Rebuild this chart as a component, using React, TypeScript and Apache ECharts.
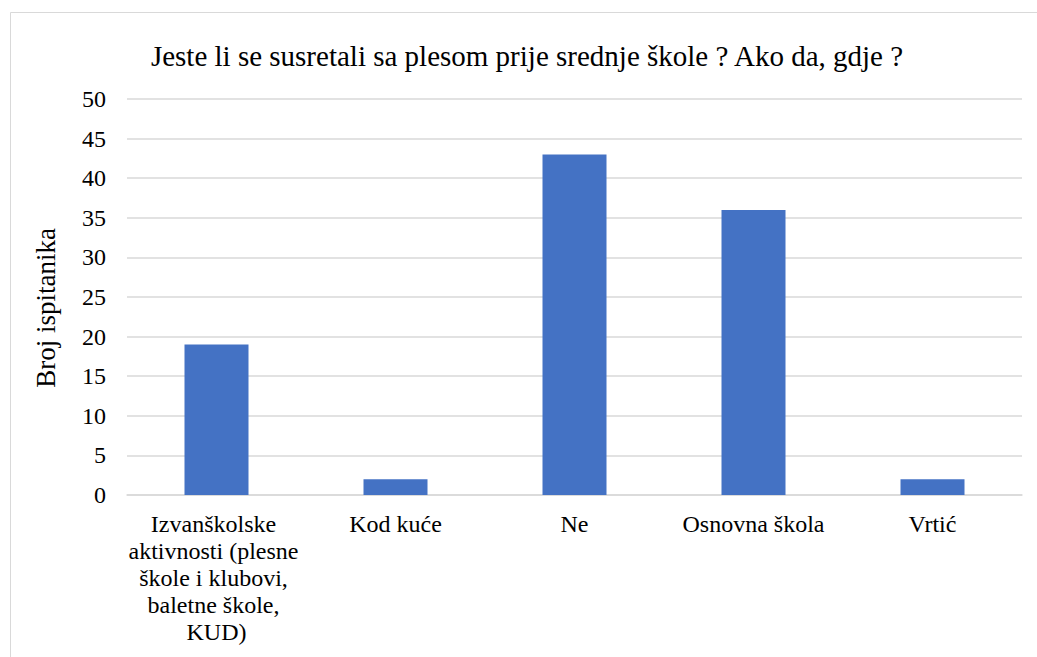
import React, { useEffect, useRef } from "react";
import * as echarts from "echarts";

const titleText = "Jeste li se susretali sa plesom prije srednje škole ? Ako da, gdje ?";
const yAxisName = "Broj ispitanika";
const categories = [
  "Izvanškolske aktivnosti (plesne škole i klubovi, baletne škole, KUD)",
  "Kod kuće",
  "Ne",
  "Osnovna škola",
  "Vrtić",
];
const values = [19, 2, 43, 36, 2];
const yMin = 0;
const yMax = 50;
const yStep = 5;

const FONT = "Liberation Serif";

export default function App() {
  const ref = useRef<HTMLDivElement>(null);
  useEffect(() => {
    if (!ref.current) return;
    const chart = echarts.init(ref.current, undefined, { renderer: "svg" });
    chart.setOption({
      animation: false,
      backgroundColor: "#ffffff",
      textStyle: { fontFamily: FONT },
      title: {
        text: titleText,
        left: 522,
        top: 36,
        textAlign: "center",
        textStyle: { fontFamily: FONT, fontSize: 29, fontWeight: "normal", color: "#000000" },
      },
      graphic: [
        {
          type: "rect",
          shape: { x: 10.5, y: 12.5, width: 1060, height: 700 },
          style: { fill: "none", stroke: "#d9d9d9", lineWidth: 1 },
          silent: true,
        },
      ],
      grid: { left: 127, right: 15, top: 99, bottom: 162 },
      xAxis: {
        type: "category",
        data: categories,
        axisLine: { show: true, lineStyle: { color: "#d9d9d9", width: 1.5 } },
        axisTick: { show: false },
        axisLabel: {
          fontFamily: FONT,
          fontSize: 24,
          color: "#000000",
          margin: 15,
          lineHeight: 27,
          width: 180,
          overflow: "break",
          interval: 0,
        },
      },
      yAxis: {
        type: "value",
        min: yMin,
        max: yMax,
        interval: yStep,
        name: yAxisName,
        nameLocation: "middle",
        nameGap: 68,
        nameTextStyle: { fontFamily: FONT, fontSize: 27, color: "#000000", padding: [0, 22, 0, 0] },
        axisLine: { show: false },
        axisTick: { show: false },
        axisLabel: { fontFamily: FONT, fontSize: 24, color: "#000000", margin: 21 },
        splitLine: { lineStyle: { color: "#d9d9d9", width: 1.5 } },
      },
      series: [
        {
          type: "bar",
          data: values,
          barWidth: 64,
          itemStyle: { color: "#4472c4" },
        },
      ],
    });
    return () => chart.dispose();
  }, []);
  return (
    <div
      ref={ref}
      style={{ position: "absolute", left: 0, top: 0, width: 1037, height: 657 }}
    />
  );
}
